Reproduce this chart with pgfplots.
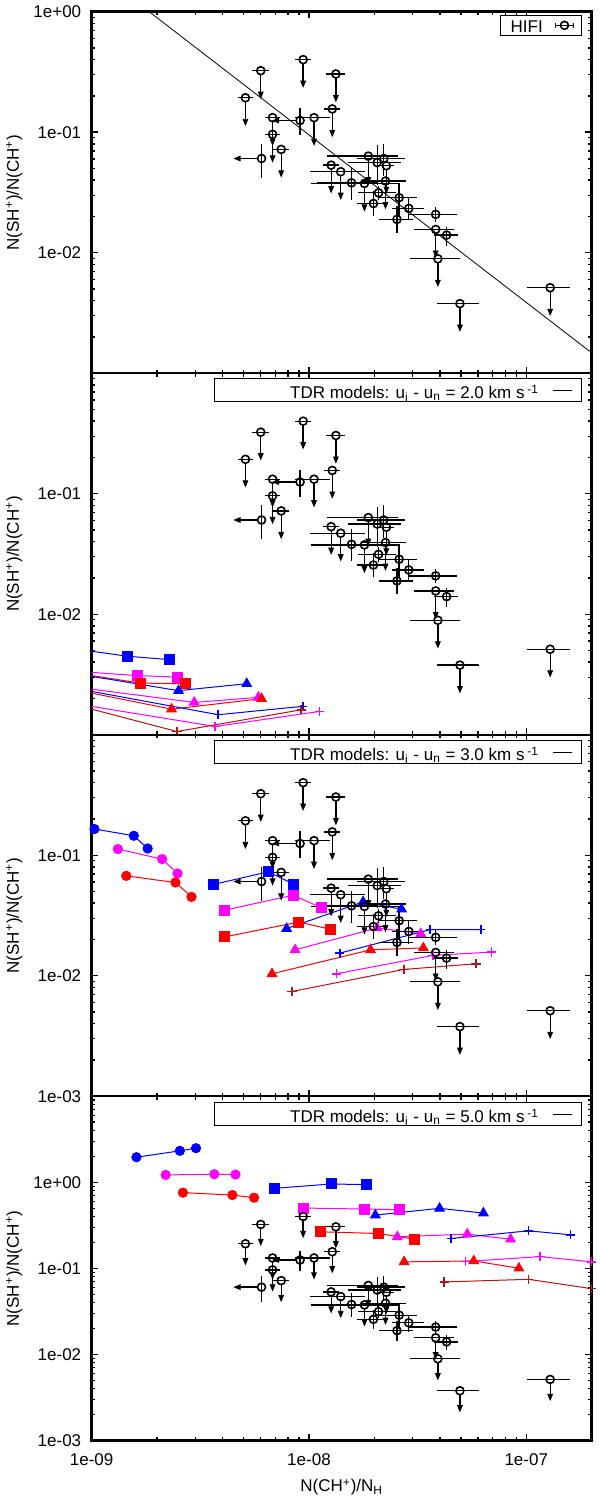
\documentclass[border=0pt]{standalone}
\usepackage{fontspec}
\setmainfont{Liberation Sans}
\usepackage{pgfplots}
\usepackage{pgfplotstable}
\pgfplotsset{compat=1.18}

\definecolor{mblue}{RGB}{0,0,255}
\definecolor{mmag}{RGB}{255,0,255}
\definecolor{mred}{RGB}{255,0,0}
\definecolor{mdred}{RGB}{180,20,20}
\newcommand\fs{\fontsize{8.5}{10.2}\selectfont}

% HIFI detections
\pgfplotstableread{
x        y       ex       eyp     eym
1.57e-8  0.0380  0.45e-8  0.0105  0.0092
2.06e-8  0.0560  0.52e-8  0.0185  0.0180
2.21e-8  0.0605  0.50e-8  0.0165  0.0155
2.09e-8  0.0314  0.36e-8  0.0030  0.0030
1.98e-8  0.0256  0.28e-8  0.0053  0.0045
2.60e-8  0.0286  0.46e-8  0.0077  0.0075
2.88e-8  0.0233  0.41e-8  0.0040  0.0040
2.54e-8  0.0189  0.39e-8  0.0043  0.0036
3.83e-8  0.0208  0.86e-8  0.0020  0.0020
4.30e-8  0.0140  0.45e-8  0.0018  0.0021
}\hifidet
% HIFI upper limits in y (ys = start of the arrow, ye = arrow head)
\pgfplotstableread{
x        y        ex       ys       ye
5.10e-9  0.193    0.30e-9  0.1785   0.1235
6.00e-9  0.324    0.42e-9  0.2997   0.2074
9.40e-9  0.400    0.56e-9  0.3700   0.2560
1.33e-8  0.304    0.10e-8  0.2812   0.1946
1.28e-8  0.156    0.077e-8 0.1443   0.0998
6.80e-9  0.132    0.40e-9  0.1221   0.0845
6.80e-9  0.096    0.40e-9  0.0888   0.0614
7.45e-9  0.072    0.45e-9  0.0666   0.0461
1.055e-8 0.132    0.17e-8  0.1221   0.0845
1.265e-8 0.0533   0.076e-8 0.0493   0.0341
1.40e-8  0.0470   0.37e-8  0.04348  0.0301
1.80e-8  0.0376   0.75e-8  0.03478  0.02406
1.875e-8 0.0633   0.64e-8  0.05855  0.0405
2.27e-8  0.0527   0.14e-8  0.04875  0.03373
2.25e-8  0.0393   0.47e-8  0.03635  0.02515
3.83e-8  0.0156   0.72e-8  0.01443  0.00998
3.92e-8  0.0089   0.92e-8  0.008233 0.0057
4.95e-8  0.00378  0.96e-8  0.003497 0.00242
1.288e-7 0.00512  0.26e-7  0.004736 0.003277
}\hiful
% HIFI upper limits in x (xs = start of the arrow, xe = arrow head)
\pgfplotstableread{
x       y       eyp     eym    xs      xe
6.05e-9 0.0605  0.0165  0.0170 5.78e-9 4.73e-9
9.10e-9 0.125   0.0270  0.0270 8.69e-9 7.12e-9
}\hifixul

% ---- TDR models, 2.0 km/s
\pgfplotstableread{
xb yb xm ym xr yr
6.0e-10  0.00561 6.0e-10  0.00351 6.0e-10  0.00356
1.458e-9 0.00448 1.63e-9  0.00309 1.68e-9  0.00268
2.28e-9  0.00420 2.485e-9 0.00301 2.71e-9  0.00265
}\pIIsq
\pgfplotstableread{
xb yb xm ym xr yr
6.0e-10  0.00355 6.0e-10  0.00269  6.0e-10  0.00266
2.51e-9  0.00232 2.965e-9 0.001853 2.33e-9  0.00163
5.17e-9  0.00265 5.85e-9  0.00204  6.05e-9  0.00199
}\pIItr
\pgfplotstableread{
xb yb xm ym xr yr
6.0e-10  0.00271  6.0e-10  0.001994 6.0e-10  0.002074
3.82e-9  0.001465 3.70e-9  0.00117  2.47e-9  0.001063
9.37e-9  0.00172  1.117e-8 0.00156  9.2e-9   0.00161
}\pIIpl
% ---- TDR models, 3.0 km/s
\pgfplotstableread{
xb yb xm ym xr yr
1.03e-9  0.165  1.32e-9  0.1124 1.443e-9 0.0674
1.563e-9 0.145  2.11e-9  0.0928 2.43e-9  0.0593
1.81e-9  0.1137 2.485e-9 0.0705 2.88e-9  0.0451
}\pIIIci
\pgfplotstableread{
xb yb xm ym xr yr
3.62e-9 0.0571 4.07e-9  0.0349 4.10e-9  0.0210
6.50e-9 0.0728 8.45e-9  0.0466 8.97e-9  0.0279
8.51e-9 0.0575 1.136e-8 0.0367 1.257e-8 0.0243
}\pIIIsq
\pgfplotstableread{
xb yb xm ym xr yr
7.89e-9  0.0246 8.63e-9 0.0164 6.76e-9 0.01037
1.774e-8 0.0410 2.06e-8 0.0249 1.92e-8 0.0164
2.67e-8  0.0356 3.27e-8 0.0223 3.36e-8 0.0170
}\pIIItr
\pgfplotstableread{
xb yb xm ym xr yr
1.386e-8 0.0154 1.336e-8 0.01037 8.36e-9 0.0074
3.61e-8  0.0241 3.72e-8  0.01475 2.74e-8 0.01128
6.18e-8  0.0241 6.92e-8  0.0157  5.87e-8 0.01256
}\pIIIpl
% ---- TDR models, 5.0 km/s
\pgfplotstableread{
xb yb xm ym xr yr
1.607e-9 1.956 2.19e-9 1.218 2.63e-9 0.758
2.545e-9 2.32  3.67e-9 1.24  4.44e-9 0.711
3.02e-9  2.49  4.59e-9 1.23  5.59e-9 0.662
}\pVci
\pgfplotstableread{
xb yb xm ym xr yr
6.94e-9  0.851 9.45e-9 0.502 1.129e-8 0.266
1.265e-8 0.956 1.80e-8 0.489 2.10e-8  0.254
1.84e-8  0.939 2.61e-8 0.480 3.07e-8  0.218
}\pVsq
\pgfplotstableread{
xb yb xm ym xr yr
2.02e-8 0.416 2.55e-8 0.2325 2.74e-8 0.119
3.99e-8 0.498 5.35e-8 0.250  5.73e-8 0.122
6.35e-8 0.439 8.47e-8 0.218  9.25e-8 0.1003
}\pVtr
\pgfplotstableread{
xb yb xm ym xr yr
4.51e-8  0.2224 5.24e-8  0.120 4.19e-8  0.0695
1.025e-7 0.273  1.157e-7 0.137 1.025e-7 0.0746
1.60e-7  0.2453 2.0e-7   0.119 2.0e-7   0.0581
}\pVpl

\pgfplotsset{
  hifimark/.style={only marks, black, mark=o, mark size=2pt, mark options={line width=0.8pt}},
  nomark/.style={only marks, black, mark=*, mark size=0pt, mark options={draw=none, fill=none}},
  mc/.style={line width=0.5pt, #1, mark=*, mark size=2.3pt, mark options={solid}},
  ms/.style={line width=0.5pt, #1, mark=square*, mark size=2.5pt, mark options={solid}},
  mt/.style={line width=0.5pt, #1, mark=triangle*, mark size=2.7pt, mark options={solid}},
  mp/.style={line width=0.5pt, #1, mark=+, mark size=2.3pt, mark options={solid, line width=0.75pt}},
  mypanel/.style={
    scale only axis, width=250pt,
    xmin=1e-9, xmax=2e-7,
    axis line style={line width=1.2pt},
    tick style={black, line width=0.7pt},
    major tick length=3.2pt, minor tick length=1.7pt,
    tick align=inside, xtick pos=both, ytick pos=both,
    xtick={1e-9,1e-8,1e-7},
    minor xtick={2e-9,3e-9,4e-9,5e-9,6e-9,7e-9,8e-9,9e-9,2e-8,3e-8,4e-8,5e-8,6e-8,7e-8,8e-8,9e-8},
    xticklabels={,,},
    tick label style={font=\fs},
    yticklabel style={xshift=-1.7pt},
    xticklabel style={yshift=-2.85pt},
    label style={font=\fs},
    ylabel={N(SH\textsuperscript{+})/N(CH\textsuperscript{+})},
    ylabel style={at={(axis description cs:-0.1546,0.5)}, anchor=center},
    legend plot pos=right,
    legend style={at={(1,1)}, anchor=north east, draw=black, line width=0.5pt,
      inner sep=0pt, font=\fs, column sep=7pt, nodes={inner sep=0pt}},
  },
  myminor/.style={minor ytick={2e-3,3e-3,4e-3,5e-3,6e-3,7e-3,8e-3,9e-3,2e-2,3e-2,4e-2,5e-2,6e-2,7e-2,8e-2,9e-2,0.2,0.3,0.4,0.5,0.6,0.7,0.8,0.9}},
  myminorIV/.style={minor ytick={2e-3,3e-3,4e-3,5e-3,6e-3,7e-3,8e-3,9e-3,2e-2,3e-2,4e-2,5e-2,6e-2,7e-2,8e-2,9e-2,0.2,0.3,0.4,0.5,0.6,0.7,0.8,0.9,2,3,4,5,6,7,8,9}},
}

\newcommand\hifi{%
  % arrow stems
  \addplot[nomark, forget plot, error bars/.cd, y dir=minus, y fixed relative=0.308,
    error mark=none, error bar style={black, line width=0.65pt}] table[x=x, y=ys] {\hiful};
  \addplot[nomark, forget plot, error bars/.cd, x dir=minus, x fixed relative=0.181,
    error mark=none, error bar style={black, line width=0.65pt}] table[x=xs, y=y] {\hifixul};
  % arrow heads
  \addplot[only marks, black, forget plot, mark=triangle*, mark size=1.9pt,
    mark options={rotate=180, xscale=0.72}] table[x=x, y=ye] {\hiful};
  \addplot[only marks, black, forget plot, mark=triangle*, mark size=1.9pt,
    mark options={rotate=90, xscale=0.72}] table[x=xe, y=y] {\hifixul};
  % points with error bars
  \addplot[hifimark, forget plot, error bars/.cd, x dir=both, x explicit,
    error bar style={black, line width=0.65pt}, error mark options={black, line width=0.65pt, mark size=1.1pt}]
    table[x=x, y=y, x error=ex] {\hiful};
  \addplot[hifimark, forget plot, error bars/.cd, y dir=both, y explicit,
    error bar style={black, line width=0.65pt}, error mark options={black, line width=0.65pt, mark size=1.1pt}]
    table[x=x, y=y, y error plus=eyp, y error minus=eym] {\hifixul};
  \addplot[hifimark, forget plot, error bars/.cd, x dir=both, x explicit, y dir=both, y explicit,
    error bar style={black, line width=0.65pt}, error mark options={black, line width=0.65pt, mark size=1.1pt}]
    table[x=x, y=y, x error=ex, y error plus=eyp, y error minus=eym] {\hifidet};
}
\newcommand\tdrlegend[1]{%
  \addlegendimage{legend image code/.code={
    \draw[black, line width=0.5pt] (0pt,0pt) -- (9.5pt,0pt);
    \path[draw=none, fill=none] (0pt,-1pt) rectangle (14pt,1pt);}}
  \addlegendentry{\rule[-3.35pt]{0pt}{13.35pt}\makebox[162pt][r]{TDR models: u\textsubscript{i} - u\textsubscript{n} = #1 km s\,\textsuperscript{-1}}}
}
\newcommand\tdrset[3]{%
  \addplot[#1=mblue] table[x=xb, y=yb] {#2};
  \addplot[#1=mmag]  table[x=xm, y=ym] {#2};
  \addplot[#1=#3]  table[x=xr, y=yr] {#2};
}

\begin{document}
\begin{tikzpicture}
% ---------------- panel 1: HIFI
\begin{loglogaxis}[mypanel, myminor, at={(45.85pt,561.4pt)}, anchor=south west, height=180.75pt,
  ymin=1e-3, ymax=1, ytick={1e-2,1e-1,1}, yticklabels={1e-02,1e-01,1e+00},
  legend style={xshift=-4.85pt, yshift=-1.65pt, column sep=6pt}]
  \addlegendimage{legend image code/.code={
    \draw[black, line width=0.65pt] (0pt,0pt) -- (9pt,0pt);
    \draw[black, line width=0.65pt] (0pt,-1.1pt) -- (0pt,1.1pt) (9pt,-1.1pt) -- (9pt,1.1pt);
    \draw[black, line width=0.8pt, fill=none] (4.5pt,0pt) circle (2pt);
    \path[draw=none, fill=none] (0pt,-2.5pt) rectangle (13pt,2.5pt);}}
  \addlegendentry{\rule[-2pt]{0pt}{10.35pt}\makebox[21pt][r]{HIFI}}
  \addplot[black, line width=0.4pt, forget plot] coordinates {(1.84e-9,1) (2e-7,1.475e-3)};
  \hifi
\end{loglogaxis}
% ---------------- panel 2: 2.0 km/s
\begin{loglogaxis}[mypanel, myminor, at={(45.85pt,380.65pt)}, anchor=south west, height=180.75pt,
  ymin=1e-3, ymax=1, ytick={1e-2,1e-1}, yticklabels={1e-02,1e-01},
  legend style={xshift=-4.85pt, yshift=-2.55pt}]
  \tdrlegend{2.0}
  \tdrset{ms}{\pIIsq}{mred}
  \tdrset{mt}{\pIItr}{mred}
  \tdrset{mp}{\pIIpl}{mdred}
  \hifi
\end{loglogaxis}
% ---------------- panel 3: 3.0 km/s
\begin{loglogaxis}[mypanel, myminor, at={(45.85pt,199.9pt)}, anchor=south west, height=180.75pt,
  ymin=1e-3, ymax=1, ytick={1e-3,1e-2,1e-1}, yticklabels={1e-03,1e-02,1e-01},
  legend style={xshift=-4.85pt, yshift=-2.75pt}]
  \tdrlegend{3.0}
  \tdrset{mc}{\pIIIci}{mred}
  \tdrset{ms}{\pIIIsq}{mred}
  \tdrset{mt}{\pIIItr}{mred}
  \tdrset{mp}{\pIIIpl}{mdred}
  \hifi
\end{loglogaxis}
% ---------------- panel 4: 5.0 km/s
\begin{loglogaxis}[mypanel, myminorIV, at={(45.85pt,27.75pt)}, anchor=south west, height=172.15pt,
  ymin=1e-3, ymax=10, ytick={1e-3,1e-2,1e-1,1}, yticklabels={1e-03,1e-02,1e-01,1e+00},
  xticklabels={1e-09,1e-08,1e-07},
  xlabel={N(CH\textsuperscript{+})/N\textsubscript{H}},
  xlabel style={at={(axis description cs:0.5,0)}, anchor=base, yshift=-25.6pt},
  legend style={xshift=-4.85pt, yshift=-3pt}]
  \tdrlegend{5.0}
  \tdrset{mc}{\pVci}{mred}
  \tdrset{ms}{\pVsq}{mred}
  \tdrset{mt}{\pVtr}{mred}
  \tdrset{mp}{\pVpl}{mdred}
  \hifi
\end{loglogaxis}
\pgfresetboundingbox
\path (0pt,0pt) rectangle (300pt,748pt);
\end{tikzpicture}
\end{document}
